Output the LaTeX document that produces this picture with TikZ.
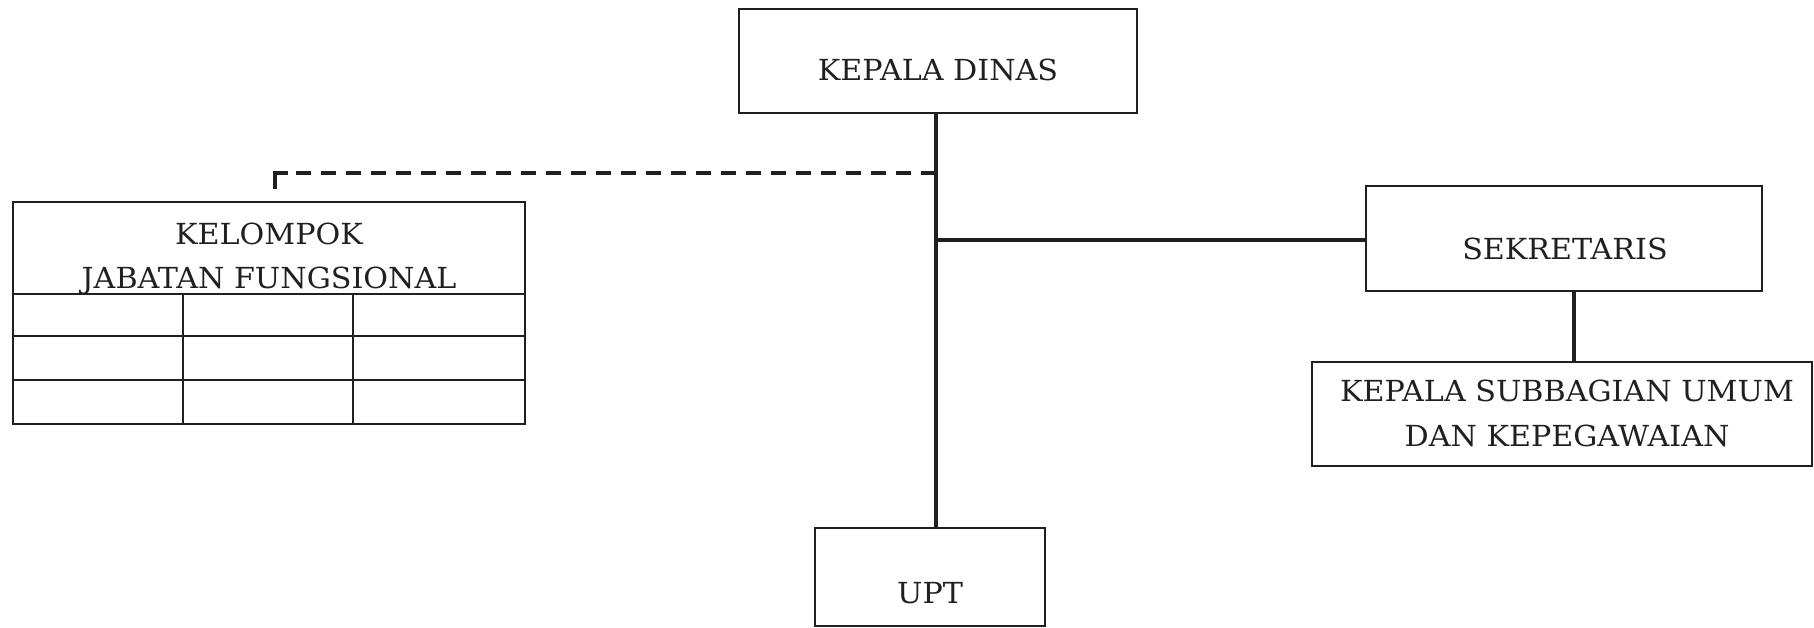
\documentclass[tikz,border=0pt]{standalone}
\usepackage{fontspec}
\setmainfont{DejaVu Serif}[FakeStretch=1.04]
\definecolor{ink}{RGB}{32,32,32}
\begin{document}
\begin{tikzpicture}[x=1pt,y=-1pt,
  box/.style={draw=ink, line width=2.8pt, inner sep=0pt},
  grid/.style={draw=ink, line width=2.8pt},
  txt/.style={text=ink, font=\fontsize{29}{33}\selectfont, anchor=base, inner sep=0pt},
  conn/.style={draw=ink, line width=3.8pt},
  dconn/.style={draw=ink, line width=3.4pt, dash pattern=on 15pt off 10pt}]
\useasboundingbox (0,0) rectangle (1814,628);
% boxes
\node[box, minimum width=398, minimum height=104] (kd) at (938,61) {};
\node[box, minimum width=396, minimum height=105] (sek) at (1564,238.5) {};
\node[box, minimum width=500, minimum height=104] (ksu) at (1562,414) {};
\node[box, minimum width=230, minimum height=98] (upt) at (930,577) {};
\node[box, minimum width=512, minimum height=222] (kjf) at (269,313) {};
% table grid of the functional group
\draw[grid] (kjf.west |- 0,294) -- (kjf.east |- 0,294);
\draw[grid] (kjf.west |- 0,336) -- (kjf.east |- 0,336);
\draw[grid] (kjf.west |- 0,380) -- (kjf.east |- 0,380);
\draw[grid] (183,294) -- (kjf.south -| 183,0);
\draw[grid] (353,294) -- (kjf.south -| 353,0);
% texts
\node[txt] (kdt) at (938,81) {KEPALA DINAS};
\node[txt] (sekt) at (1565,260) {SEKRETARIS};
\node[txt] (ksut1) at (1567,401) {KEPALA SUBBAGIAN UMUM};
\node[txt] (ksut2) at (1567,446) {DAN KEPEGAWAIAN};
\node[txt] (uptt) at (930,603) {UPT};
\node[txt] (kjft1) at (269,245) {KELOMPOK};
\node[txt] (kjft2) at (269,288) {JABATAN FUNGSIONAL};
% connectors
\coordinate (trunk) at (936,0);
\coordinate (sj) at (1574,0);
\coordinate (dj) at (936,173);
\coordinate (dc) at (275,173);
\coordinate (dend) at (275,189);
\draw[conn] (kd.south -| trunk) -- (upt.north -| trunk);
\draw[conn] (trunk |- 0,240) -- (sek.west |- 0,240);
\draw[conn] (sek.south -| sj) -- (ksu.north -| sj);
\draw[dconn] (dj) -- (dc);
\draw[draw=ink, line width=3.4pt] (288,173) -- (dc) -- (dend);
\end{tikzpicture}
\end{document}
